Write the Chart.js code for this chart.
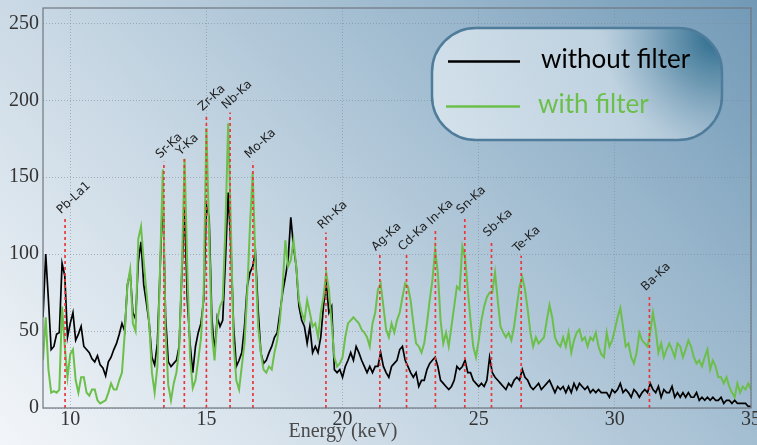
<!DOCTYPE html>
<html>
<head>
<meta charset="utf-8">
<script src="https://cdn.jsdelivr.net/npm/chart.js@4.4.0/dist/chart.umd.min.js"></script>
<style>
  html, body { margin: 0; padding: 0; background: #fff; }
  #spectrum { display: block; }
</style>
</head>
<body>
<canvas id="spectrum" width="757" height="445"></canvas>
<script>
// counts per 0.1 keV channel, 9.0 .. 35.0 keV
const withoutFilter = [
  59, 100, 70, 38, 40, 48, 49, 94, 86, 46,      // 9.0
  55, 62, 44, 48, 53, 40, 38, 36, 32, 30,       // 10.0
  34, 28, 26, 21, 30, 33, 38, 42, 48, 55,       // 11.0
  50, 80, 88, 62, 58, 95, 108, 80, 68, 55,      // 12.0
  33, 28, 42, 90, 140, 60, 30, 27, 29, 31,      // 13.0
  40, 88, 130, 70, 42, 23, 40, 49, 55, 70,      // 14.0
  132, 124, 59, 36, 59, 53, 57, 96, 140, 105,   // 15.0
  53, 27, 31, 36, 53, 79, 88, 92, 101, 64,      // 16.0
  36, 29, 31, 36, 40, 46, 49, 62, 75, 85,       // 17.0
  96, 124, 105, 92, 66, 57, 53, 42, 53, 36,     // 18.0
  40, 36, 46, 66, 81, 62, 66, 25, 23, 25,       // 19.0
  20, 27, 31, 36, 31, 40, 36, 31, 27, 23,       // 20.0
  27, 23, 27, 27, 36, 27, 23, 20, 27, 29,       // 21.0
  31, 38, 40, 31, 27, 23, 20, 23, 14, 18,       // 22.0
  18, 25, 29, 31, 33, 27, 18, 16, 14, 12,       // 23.0
  14, 18, 27, 25, 27, 31, 23, 23, 18, 16,       // 24.0
  14, 16, 14, 18, 33, 23, 20, 18, 16, 14,       // 25.0
  12, 16, 14, 18, 20, 18, 25, 20, 18, 14,       // 26.0
  12, 14, 16, 12, 14, 16, 18, 14, 10, 14,       // 27.0
  12, 14, 10, 14, 10, 16, 12, 16, 14, 12,       // 28.0
  14, 10, 12, 10, 12, 10, 10, 10, 7, 12,        // 29.0
  10, 12, 16, 10, 12, 10, 7, 12, 10, 7,         // 30.0
  10, 12, 10, 16, 12, 10, 14, 7, 12, 10,        // 31.0
  10, 14, 7, 10, 7, 10, 7, 10, 7, 7,            // 32.0
  10, 5, 7, 5, 7, 5, 7, 5, 5, 7,                // 33.0
  3, 5, 5, 3, 5, 3, 3, 3, 3, 1,                 // 34.0
  1                                             // 35.0
];
const withFilter = [
  31, 59, 25, 10, 11, 10, 12, 66, 40, 20,       // 9.0
  35, 38, 18, 10, 20, 20, 10, 8, 12, 12,        // 10.0
  5, 3, 4, 5, 10, 16, 12, 12, 18, 23,           // 11.0
  48, 80, 90, 55, 50, 110, 118, 95, 75, 55,     // 12.0
  23, 10, 27, 92, 155, 50, 15, 5, 16, 23,       // 13.0
  38, 92, 162, 90, 33, 13, 18, 31, 45, 75,      // 14.0
  182, 114, 49, 31, 57, 66, 70, 118, 185, 118,  // 15.0
  42, 18, 12, 27, 42, 75, 118, 153, 96, 53,     // 16.0
  36, 25, 23, 27, 25, 36, 44, 57, 79, 109,      // 17.0
  92, 96, 109, 92, 70, 62, 57, 70, 62, 53,      // 18.0
  55, 46, 62, 72, 88, 77, 55, 33, 27, 29,       // 19.0
  33, 46, 55, 57, 59, 57, 55, 51, 49, 46,       // 20.0
  40, 55, 62, 77, 81, 66, 51, 46, 55, 49,       // 21.0
  57, 62, 72, 81, 79, 70, 55, 42, 40, 36,       // 22.0
  42, 55, 70, 83, 103, 88, 57, 42, 49, 40,      // 23.0
  53, 66, 79, 77, 105, 98, 77, 57, 40, 33,      // 24.0
  44, 57, 66, 72, 75, 75, 88, 70, 53, 49,       // 25.0
  46, 49, 44, 53, 66, 79, 85, 77, 64, 49,       // 26.0
  40, 46, 42, 44, 46, 57, 67, 59, 46, 42,       // 27.0
  40, 46, 40, 49, 36, 44, 49, 51, 44, 46,       // 28.0
  40, 46, 44, 49, 40, 35, 33, 49, 40, 44,       // 29.0
  51, 59, 65, 53, 40, 42, 33, 29, 36, 49,       // 30.0
  44, 42, 40, 49, 62, 51, 36, 42, 33, 38,       // 31.0
  42, 38, 33, 42, 40, 33, 38, 44, 40, 33,       // 32.0
  29, 31, 27, 33, 38, 25, 31, 27, 20, 20,       // 33.0
  16, 20, 14, 10, 7, 16, 10, 14, 12, 16,        // 34.0
  12                                            // 35.0
];

// channel energies (keV) for the arrays above
const energy = withoutFilter.map((_, i) => +(9 + i * 0.1).toFixed(1));

// marked emission lines
const peakNames  = ['Pb-La1', 'Sr-Ka', 'Y-Ka', 'Zr-Ka', 'Nb-Ka', 'Mo-Ka', 'Rh-Ka', 'Ag-Ka', 'Cd-Ka', 'In-Ka', 'Sn-Ka', 'Sb-Ka', 'Te-Ka', 'Ba-Ka'];
const peakEnergy = [9.81, 13.44, 14.19, 15.0, 15.87, 16.71, 19.39, 21.37, 22.35, 23.41, 24.49, 25.47, 26.56, 31.27];
const peakTop    = [124, 160, 162, 191, 192, 160, 114, 100, 100, 117, 124, 109, 99, 74];

const xTicks = [10, 15, 20, 25, 30, 35];
const yTicks = [0, 50, 100, 150, 200, 250];

const GREEN = '#6cbf4a';
const RED = '#e8383c';

// background, frame, peak labels, axis title, legend
const decorPlugin = {
    id: 'decor',
    beforeDraw(chart) {
        const ctx = chart.ctx;
        const w = chart.width, h = chart.height;
        ctx.save();
        const g = ctx.createLinearGradient(0, h, w * 0.85, -h * 0.35);
        g.addColorStop(0, '#f3f6f9');
        g.addColorStop(0.4, '#c4d5e2');
        g.addColorStop(0.75, '#93b2c9');
        g.addColorStop(1, '#6d96b4');
        ctx.fillStyle = g;
        ctx.fillRect(0, 0, w, h);
        ctx.restore();
    },
    afterDatasetsDraw(chart) {
        const ctx = chart.ctx;
        const xs = chart.scales.x, ys = chart.scales.y;
        const a = chart.chartArea;

        // frame
        ctx.save();
        ctx.strokeStyle = '#6f7780';
        ctx.lineWidth = 1.2;
        ctx.strokeRect(a.left, a.top, a.right - a.left, a.bottom - a.top);
        ctx.restore();

        // rotated peak labels
        ctx.save();
        ctx.fillStyle = '#1e1e1e';
        ctx.font = '12px "DejaVu Sans"';
        peakNames.forEach((name, i) => {
            const px = xs.getPixelForValue(peakEnergy[i]);
            const py = ys.getPixelForValue(peakTop[i]);
            ctx.save();
            ctx.translate(px - 4, py - 3);
            ctx.rotate(-43 * Math.PI / 180);
            ctx.textAlign = 'left';
            ctx.textBaseline = 'alphabetic';
            ctx.fillText(name, 0, 0);
            ctx.restore();
        });
        ctx.restore();

        // x axis title
        ctx.save();
        ctx.fillStyle = '#4a4a4a';
        ctx.font = '20px "Liberation Serif"';
        ctx.textAlign = 'center';
        ctx.textBaseline = 'middle';
        ctx.fillText('Energy (keV)', 343, 432);
        ctx.restore();
    },
    afterDraw(chart) {
        const ctx = chart.ctx;
        // legend box
        const x0 = 432, y0 = 28, x1 = 722, y1 = 140, r = 44;
        ctx.save();
        ctx.beginPath();
        ctx.roundRect(x0, y0, x1 - x0, y1 - y0, r);
        const lg = ctx.createLinearGradient(x0, y1, x1, y0);
        lg.addColorStop(0, 'rgba(220,231,239,0.85)');
        lg.addColorStop(0.6, 'rgba(200,217,229,0.85)');
        lg.addColorStop(1, 'rgba(150,180,202,0.9)');
        ctx.fillStyle = lg;
        ctx.fill();
        const rg = ctx.createRadialGradient(715, 38, 0, 715, 38, 110);
        rg.addColorStop(0, 'rgba(38,104,138,0.95)');
        rg.addColorStop(0.45, 'rgba(70,125,155,0.55)');
        rg.addColorStop(1, 'rgba(120,160,185,0)');
        ctx.fillStyle = rg;
        ctx.fill();
        ctx.lineWidth = 2.5;
        ctx.strokeStyle = '#4f7c9b';
        ctx.stroke();

        ctx.lineWidth = 2.5;
        ctx.strokeStyle = '#000';
        ctx.beginPath(); ctx.moveTo(448, 61.5); ctx.lineTo(520, 61.5); ctx.stroke();
        ctx.strokeStyle = GREEN;
        ctx.beginPath(); ctx.moveTo(446, 106.5); ctx.lineTo(520, 106.5); ctx.stroke();

        ctx.font = '26px Lato';
        ctx.textAlign = 'left';
        ctx.textBaseline = 'alphabetic';
        ctx.fillStyle = '#000';
        ctx.fillText('without filter', 541, 68);
        ctx.fillStyle = GREEN;
        ctx.fillText('with filter', 538, 113);
        ctx.restore();
    }
};

const spectrumData = energy.map((e, i) => ({ x: e, y: withoutFilter[i] }));
const filteredData = energy.map((e, i) => ({ x: e, y: withFilter[i] }));

const markerSets = peakNames.map((name, i) => ({
    label: name,
    data: [{ x: peakEnergy[i], y: 0 }, { x: peakEnergy[i], y: peakTop[i] }],
    borderColor: RED,
    borderWidth: 1.7,
    borderDash: [3, 3],
    pointRadius: 0,
    order: 0
}));

const gridColor = 'rgba(120,135,150,0.55)';

new Chart(document.getElementById('spectrum'), {
    type: 'line',
    data: {
        datasets: [
            ...markerSets,
            {
                label: 'with filter',
                data: filteredData,
                borderColor: GREEN,
                borderWidth: 2,
                pointRadius: 0,
                tension: 0,
                order: 1
            },
            {
                label: 'without filter',
                data: spectrumData,
                borderColor: '#000',
                borderWidth: 1.7,
                pointRadius: 0,
                tension: 0,
                order: 2
            }
        ]
    },
    options: {
        responsive: false,
        animation: false,
        devicePixelRatio: 1,
        layout: { padding: { top: 8, right: 6, left: 0, bottom: 0 } },
        plugins: {
            legend: { display: false },
            tooltip: { enabled: false }
        },
        scales: {
            x: {
                type: 'linear',
                min: 9,
                max: 35,
                afterBuildTicks: s => { s.ticks = xTicks.map(v => ({ value: v })); },
                afterFit: s => {
                    s.height = 37;
                    s.paddingLeft = 0;
                    s.paddingRight = 0;
                },
                ticks: {
                    color: '#333',
                    font: { family: 'Liberation Serif', size: 20 },
                    padding: 0,
                    maxRotation: 0
                },
                grid: { color: gridColor, drawTicks: false, lineWidth: 1 },
                border: { display: false, dash: [1, 2] }
            },
            y: {
                min: 0,
                max: 260,
                afterBuildTicks: s => { s.ticks = yTicks.map(v => ({ value: v })); },
                afterFit: s => {
                    s.width = 43;
                    s.paddingTop = 0;
                    s.paddingBottom = 0;
                },
                ticks: {
                    color: '#333',
                    font: { family: 'Liberation Serif', size: 20 },
                    padding: 4
                },
                grid: { color: gridColor, drawTicks: false, lineWidth: 1 },
                border: { display: false, dash: [1, 2] }
            }
        }
    },
    plugins: [decorPlugin]
});
</script>
</body>
</html>
